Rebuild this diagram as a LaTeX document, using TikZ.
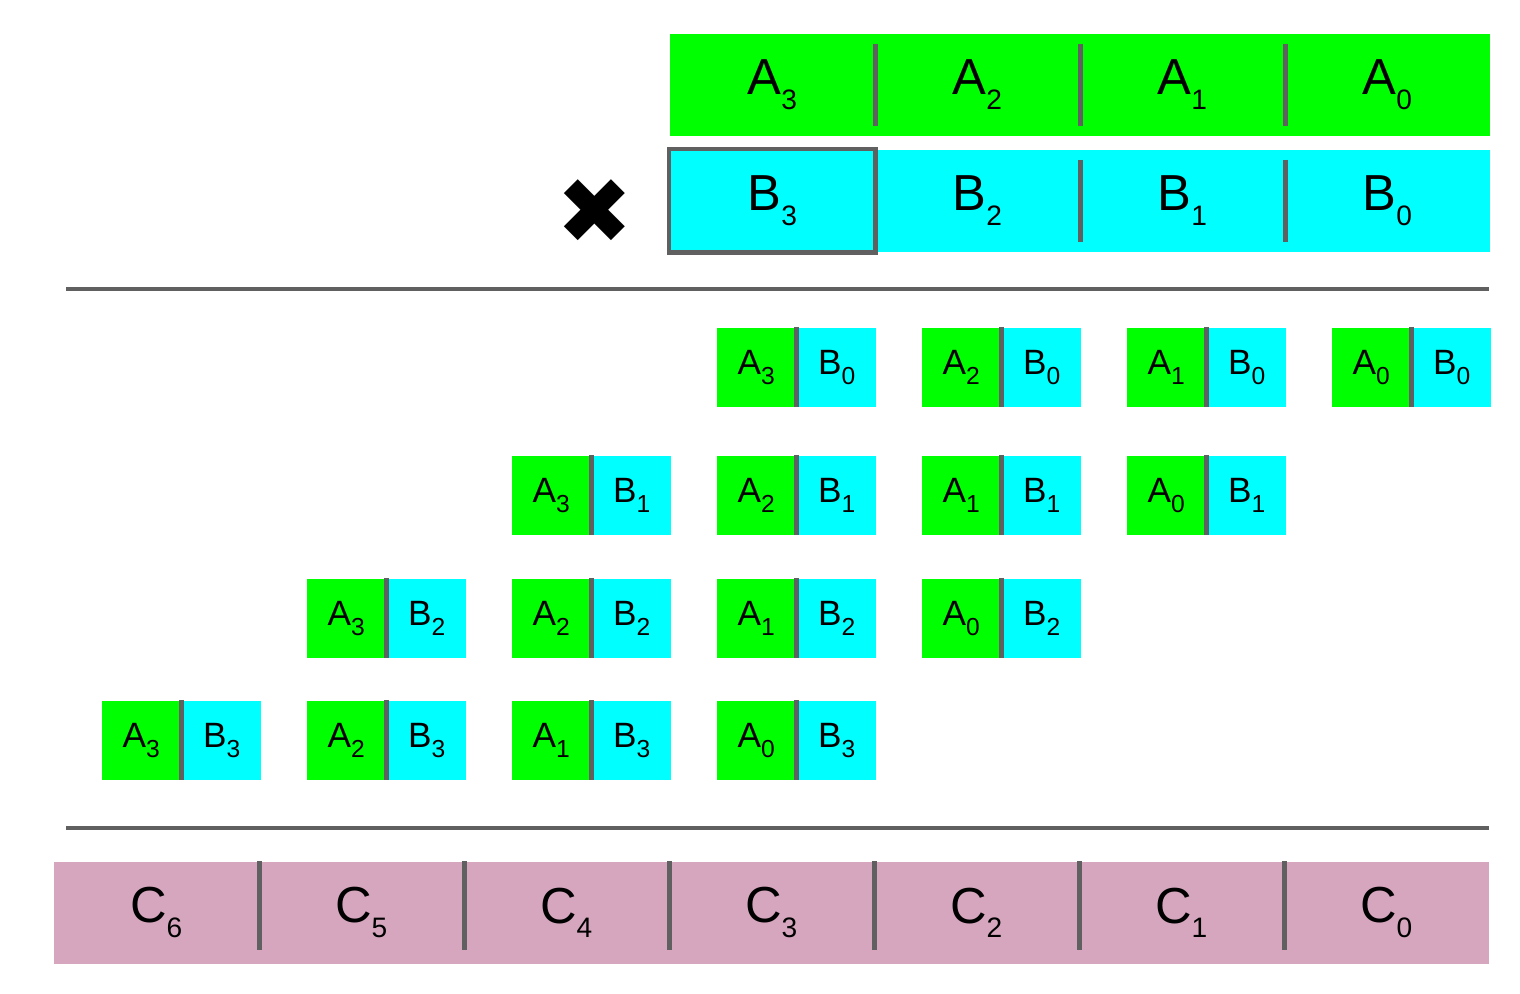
\documentclass[tikz,border=0pt]{standalone}
\usepackage{fontspec}
\setmainfont{Liberation Sans}
\newfontfamily\symfont{DejaVu Sans}
\usetikzlibrary{positioning}
\definecolor{agreen}{RGB}{0,255,0}
\definecolor{bcyan}{RGB}{0,255,255}
\definecolor{cpink}{RGB}{214,166,190}
\definecolor{gray4}{RGB}{96,96,96}
\newcommand{\sub}[2]{#1\raisebox{-0.55ex}{\footnotesize #2}}
\newcommand{\ssub}[2]{#1\raisebox{-0.55ex}{\scriptsize #2}}

\begin{document}
\begin{tikzpicture}
[x=0.01cm,y=-0.01cm,
 big/.style={minimum width=2.05cm,minimum height=1.02cm,inner sep=0,anchor=north west,font=\Large},
 small/.style={minimum width=0.79cm,minimum height=0.79cm,inner sep=0,anchor=north west,font=\normalsize},
 sep/.style={gray4,line width=1.2pt}]
\useasboundingbox (0,0) rectangle (1520,994);

% operands
\foreach \i/\x in {3/669,2/874,1/1079,0/1284}{
  \node [big,fill=agreen] (a\i) at (\x,33) {\sub{A}{\i}};
  \node [big,fill=bcyan] (b\i) at (\x,149) {\sub{B}{\i}};
}
\foreach \i/\j in {3/2,2/1,1/0}{
  \draw [sep] ([yshift=-3pt]a\i.north east) -- ([yshift=3pt]a\i.south east);
  \draw [sep] ([yshift=-3pt]b\i.north east) -- ([yshift=3pt]b\i.south east);
}
\draw [sep] (b3.north west) rectangle (b3.south east);
\node [font=\symfont\fontsize{26}{26}\selectfont] (times) at (595,212) {✖};

\coordinate (l1) at (66,289);
\coordinate (r1) at (1489,289);
\draw [sep] (l1) -- (r1);

% partial products
\foreach \j/\y in {0/327,1/455,2/578,3/700}{
  \foreach \i in {0,...,3}{
    \pgfmathsetmacro{\x}{716+205*(3-\i)-205*\j}
    \node [small,fill=agreen] (p\i\j) at (\x,\y) {\ssub{A}{\i}};
    \node [small,fill=bcyan,right=0pt of p\i\j] (q\i\j) {\ssub{B}{\j}};
    \draw [sep] (p\i\j.north east) -- (p\i\j.south east);
  }
}

\coordinate (l2) at (66,828);
\coordinate (r2) at (1489,828);
\draw [sep] (l2) -- (r2);

% result
\foreach \k in {0,...,6}{
  \pgfmathsetmacro{\x}{53+205*(6-\k)}
  \node [big,fill=cpink] (c\k) at (\x,861) {\sub{C}{\k}};
}
\foreach \k in {6,...,1}{
  \draw [sep] (c\k.north east) -- ([yshift=4pt]c\k.south east);
}
\end{tikzpicture}
\end{document}
